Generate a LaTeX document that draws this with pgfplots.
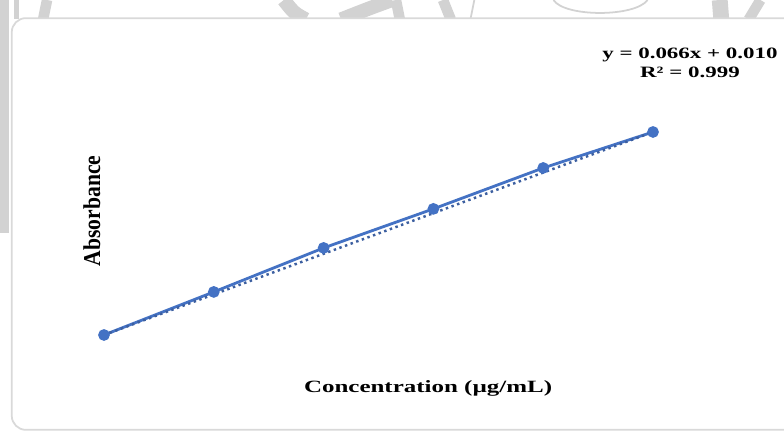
\documentclass[border=0pt]{standalone}
\usepackage{pgfplots}
\pgfplotsset{compat=1.18}
\usepackage{fontspec}
\setmainfont{Liberation Serif}
\definecolor{xlblue}{RGB}{68,114,196}
\definecolor{trend}{RGB}{60,95,160}
\begin{document}
\begin{tikzpicture}
\begin{axis}[
  scale only axis, width=15.68cm, height=8.64cm,
  xmin=0.106, xmax=14.386, ymin=-0.1734, ymax=1.2311,
  axis lines=none, clip=false,
]
% watermark fragments (decoration)
\begin{scope}[line cap=butt]
\draw[gray!35, line width=8pt] (rel axis cs:0.003,1) -- (rel axis cs:0.003,0.46);
\draw[gray!35, line width=3pt] (rel axis cs:0.021,1) -- (rel axis cs:0.021,0.955);
\draw[gray!35, line width=6pt] (rel axis cs:0.06,1) -- (rel axis cs:0.055,0.955);
\draw[gray!35, line width=8pt] (rel axis cs:0.362,1) .. controls (rel axis cs:0.375,0.97) .. (rel axis cs:0.39,0.955);
\draw[gray!35, line width=8pt] (rel axis cs:0.435,0.955) .. controls (rel axis cs:0.47,0.98) .. (rel axis cs:0.50,1);
\draw[gray!35, line width=6pt] (rel axis cs:0.505,1) -- (rel axis cs:0.51,0.955);
\draw[gray!35, line width=6pt] (rel axis cs:0.565,1) -- (rel axis cs:0.575,0.955);
\draw[gray!35, line width=1pt] (rel axis cs:0.605,1) -- (rel axis cs:0.60,0.955);
\draw[gray!35, line width=1pt] (rel axis cs:0.706,1) .. controls (rel axis cs:0.72,0.96) and (rel axis cs:0.81,0.96) .. (rel axis cs:0.826,1);
\draw[gray!35, line width=9pt] (rel axis cs:0.918,1) -- (rel axis cs:0.92,0.955);
\draw[gray!35, line width=6pt] (rel axis cs:0.97,1) -- (rel axis cs:0.955,0.955);
\end{scope}
% frame
\draw[gray!30, line width=1pt, fill=white, rounded corners=8pt]
  (rel axis cs:0.015,0.005) rectangle (rel axis cs:1.02,0.958);
% data
\addplot[xlblue, line width=1.6pt, mark=*, mark size=2.5pt, mark options={fill=xlblue}]
  coordinates {(2,0.142) (4,0.282) (6,0.425) (8,0.552) (10,0.685) (12,0.802)};
\addplot[trend, line width=1.4pt, dotted]
  coordinates {(2,0.142) (12,0.802)};
% texts
\node[font=\bfseries\fontsize{9}{10}\selectfont, align=center] at (rel axis cs:0.880,0.855)
  {\scalebox{1.45}[1]{y = 0.066x + 0.010}\\[1pt]\scalebox{1.45}[1]{R² = 0.999}};
\node[font=\bfseries\fontsize{9.8}{11}\selectfont] at (rel axis cs:0.546,0.100)
  {\scalebox{1.45}[1]{Concentration (µg/mL)}};
\node[font=\bfseries\fontsize{12.3}{13}\selectfont] at (rel axis cs:0.117,0.512)
  {\scalebox{1.12}[1]{\rotatebox{90}{Absorbance}}};
\end{axis}
\pgfresetboundingbox
\path (current axis.south west) rectangle (current axis.north east);
\end{tikzpicture}
\end{document}
